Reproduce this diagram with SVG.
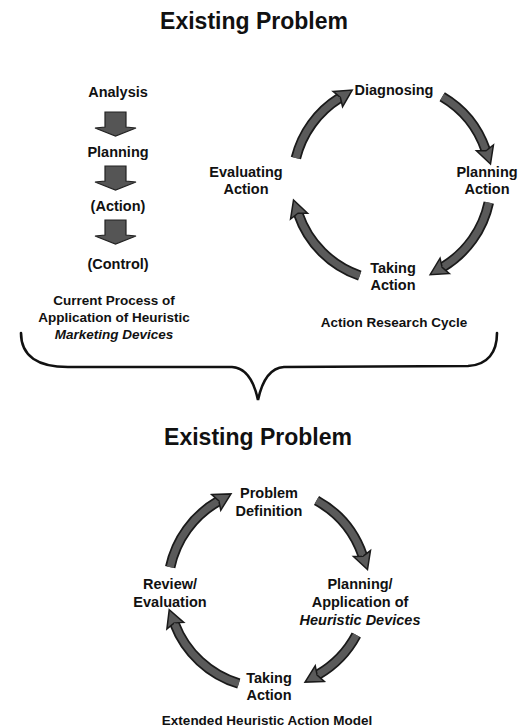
<svg xmlns="http://www.w3.org/2000/svg" width="530" height="728" viewBox="0 0 530 728">
<style>
text{font-family:"Liberation Sans",Arial,sans-serif;font-weight:bold;fill:#111;text-anchor:middle}
.title{font-size:23px}
.lbl{font-size:14.5px}
.cap{font-size:13.5px}
.it{font-style:italic}
.arcO{fill:none;stroke:#1a1a1a;stroke-width:10.5}
.arcI{fill:none;stroke:#5a5a5a;stroke-width:7;marker-end:url(#ah)}
.blk{fill:#555;stroke:#222;stroke-width:1.2}
.brace{fill:none;stroke:#111;stroke-width:2.6;stroke-linecap:round}
</style>
<defs>
<marker id="ah" markerUnits="userSpaceOnUse" markerWidth="24" markerHeight="24" refX="2" refY="10" orient="auto" overflow="visible">
<path d="M0,1 L17,10 L0,19 L3,10 Z" fill="#5a5a5a" stroke="#1a1a1a" stroke-width="1.5" stroke-linejoin="miter"/>
</marker>
<polygon id="blockArrow" points="105,0 126,0 126,15 136,16 115.5,24 95,16 105,15"/>
</defs>

<g id="title-top"><text class="title" x="254" y="29">Existing Problem</text></g>

<g id="left-process">
<g id="n-analysis"><text class="lbl" x="118" y="97">Analysis</text></g>
<g id="n-planning"><text class="lbl" x="118" y="157">Planning</text></g>
<g id="n-action"><text class="lbl" x="118" y="211">(Action)</text></g>
<g id="n-control"><text class="lbl" x="118" y="269">(Control)</text></g>
<g id="n-caption-left">
<text class="cap" x="114" y="305">Current Process of</text>
<text class="cap" x="114" y="322">Application of Heuristic</text>
<text class="cap it" x="114" y="339">Marketing Devices</text>
</g>
</g>

<g id="cycle-top">
<g id="n-diagnosing"><text class="lbl" x="394" y="95">Diagnosing</text></g>
<g id="n-planning-action"><text class="lbl" x="487" y="177">Planning</text><text class="lbl" x="487" y="194">Action</text></g>
<g id="n-taking-action"><text class="lbl" x="393" y="273">Taking</text><text class="lbl" x="393" y="290">Action</text></g>
<g id="n-evaluating-action"><text class="lbl" x="246" y="177">Evaluating</text><text class="lbl" x="246" y="194">Action</text></g>
<g id="n-caption-right"><text class="cap" x="394" y="327">Action Research Cycle</text></g>
</g>

<g id="title-bottom"><text class="title" x="258" y="445">Existing Problem</text></g>

<g id="cycle-bottom">
<g id="n-problem-definition"><text class="lbl" x="269" y="498">Problem</text><text class="lbl" x="269" y="516">Definition</text></g>
<g id="n-planning-application"><text class="lbl" x="360" y="589">Planning/</text><text class="lbl" x="360" y="607">Application of</text><text class="lbl it" x="360" y="625">Heuristic Devices</text></g>
<g id="n-taking-action-2"><text class="lbl" x="269" y="683">Taking</text><text class="lbl" x="269" y="700">Action</text></g>
<g id="n-review-evaluation"><text class="lbl" x="170" y="589">Review/</text><text class="lbl" x="170" y="607">Evaluation</text></g>
<g id="n-caption-bottom"><text class="cap" x="267" y="725">Extended Heuristic Action Model</text></g>
</g>

<g id="connectors">
<use href="#blockArrow" class="blk" y="112"/>
<use href="#blockArrow" class="blk" y="166"/>
<use href="#blockArrow" class="blk" y="220"/>

<path class="arcO" d="M295.9,158.1 A99,99 0 0 1 339.5,98.0"/>
<path class="arcI" d="M295.9,158.1 A99,99 0 0 1 339.5,98.0"/>
<path class="arcO" d="M442.2,96.7 A99,99 0 0 1 485.6,149.8"/>
<path class="arcI" d="M442.2,96.7 A99,99 0 0 1 485.6,149.8"/>
<path class="arcO" d="M488.8,202.6 A99,99 0 0 1 443.0,266.9"/>
<path class="arcI" d="M488.8,202.6 A99,99 0 0 1 443.0,266.9"/>
<path class="arcO" d="M359.8,275.6 A99,99 0 0 1 298.4,214.2"/>
<path class="arcI" d="M359.8,275.6 A99,99 0 0 1 298.4,214.2"/>

<path class="brace" d="M21,333 C21,356 38,367 68,367 L232,367 C248,368 255,386 258,400 C261,386 268,368 284,367 L468,366 C488,365 497,352 497,333"/>

<path class="arcO" d="M170.2,567.2 A100,100 0 0 1 218,501.4"/>
<path class="arcI" d="M170.2,567.2 A100,100 0 0 1 218,501.4"/>
<path class="arcO" d="M316.5,500.5 A100,100 0 0 1 362.6,555.4"/>
<path class="arcI" d="M316.5,500.5 A100,100 0 0 1 362.6,555.4"/>
<path class="arcO" d="M356.3,635.0 A100,100 0 0 1 318,674.6"/>
<path class="arcI" d="M356.3,635.0 A100,100 0 0 1 318,674.6"/>
<path class="arcO" d="M238.8,683.6 A100,100 0 0 1 174.6,623.8"/>
<path class="arcI" d="M238.8,683.6 A100,100 0 0 1 174.6,623.8"/>
</g>
</svg>
